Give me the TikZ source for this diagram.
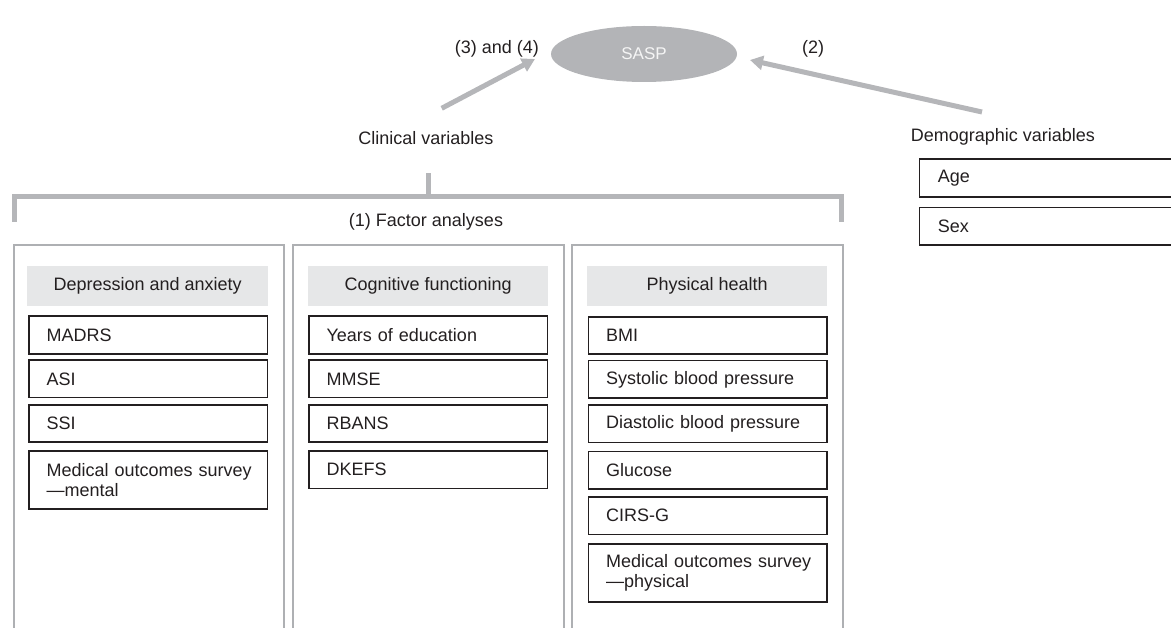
\documentclass[tikz,border=0pt]{standalone}
\usepackage{fontspec}
\setmainfont{Liberation Sans}
\usetikzlibrary{shapes.geometric,arrows.meta}
\definecolor{gline}{HTML}{B5B6B9}
\definecolor{hfill}{HTML}{E6E7E8}
\definecolor{pborder}{HTML}{AEB0B3}
\definecolor{ink}{HTML}{231F20}
\definecolor{saspfill}{HTML}{B3B4B7}
\begin{document}
\begin{tikzpicture}[x=1pt,y=-1pt,
  every node/.style={font=\fontsize{18}{20}\selectfont, text=ink},
  txt/.style={inner sep=0pt},
  panel/.style={draw=pborder, line width=2pt, rectangle, anchor=north west,
    minimum width=270pt, minimum height=430pt, inner sep=0pt},
  hdr/.style={fill=hfill, rectangle, anchor=north west, minimum width=241pt,
    minimum height=40pt, inner sep=0pt},
  item/.style={draw=ink, line width=1.7pt, rectangle, anchor=north west,
    minimum width=238.5pt, minimum height=37.5pt, inner xsep=0pt, inner ysep=0pt,
    text width=203pt, align=left},
  tall/.style={item, minimum height=58pt},
  demo/.style={item, minimum width=280pt, text width=243pt},
  arr/.style={draw=gline, line width=5pt, -{Triangle[length=13pt,width=14pt]}},
  brk/.style={draw=gline, line width=5pt}
]
\useasboundingbox (0,0) rectangle (1171,628);

% SASP
\node[ellipse, fill=saspfill, minimum width=186pt, minimum height=56pt, inner sep=0pt,
  text=white!92!gray, font=\fontsize{17}{20}\selectfont] (sasp) at (644,54) {SASP};
\node[txt] (lab34) at (497,49) {(3) and (4)};
\node[txt] (lab2) at (813,49) {(2)};

% group labels
\node[txt] (clin) at (426,138) {Clinical variables};
\node[txt] (demog) at (1003,137) {Demographic variables};

% arrows
\coordinate (clinTail) at (441.7,108.3);
\coordinate (clinTip) at (535,59);
\coordinate (demTail) at (982,112);
\coordinate (demTip) at (750,60);
\draw[arr] (clinTail) -- (clinTip);
\draw[arr] (demTail) -- (demTip);

% bracket
\coordinate (stemTop) at (428.5,173.3);
\coordinate (stemBot) at (428.5,196.8);
\coordinate (brL) at (14.8,222);
\coordinate (brLc) at (14.8,196.8);
\coordinate (brRc) at (841.8,196.8);
\coordinate (brR) at (841.8,222);
\draw[brk] (stemTop) -- (stemBot);
\draw[brk, line join=miter] (brL) -- (brLc) -- (brRc) -- (brR);
\node[txt] (fa) at (426,222) {(1) Factor analyses};

% panels
\node[panel] (p1) at (12.8,244) {};
\node[panel, minimum width=271pt] (p2) at (292,244) {};
\node[panel, minimum width=271pt] (p3) at (571,244) {};

% headers
\node[hdr] (h1) at (27,265.5) {Depression and anxiety};
\node[hdr, minimum width=240pt] (h2) at (308,265.5) {Cognitive functioning};
\node[hdr, minimum width=240pt] (h3) at (587,266) {Physical health};

% column 1
\node[item] (madrs) at (28,315.5) {MADRS};
\node[item] (asi) at (28,359.3) {ASI};
\node[item] (ssi) at (28,404) {SSI};
\node[tall] (mosm) at (28,450) {\mbox{Medical outcomes survey}\\\mbox{—mental}};

% column 2
\node[item] (yoe) at (308,315.5) {Years of education};
\node[item] (mmse) at (308,359.3) {MMSE};
\node[item] (rbans) at (308,404) {RBANS};
\node[item] (dkefs) at (308,450) {DKEFS};

% column 3
\node[item] (bmi) at (587.5,316) {BMI};
\node[item] (sbp) at (587.5,359.8) {Systolic blood pressure};
\node[item] (dbp) at (587.5,404.2) {Diastolic blood pressure};
\node[item] (glu) at (587.5,450.8) {Glucose};
\node[item] (cirs) at (587.5,496.2) {CIRS-G};
\node[tall, minimum height=57.6pt] (mosp) at (587.5,543.2) {\mbox{Medical outcomes survey}\\\mbox{—physical}};

% demographics
\node[demo] (age) at (918.5,158.5) {Age};
\node[demo] (sex) at (918.5,206.8) {Sex};
\end{tikzpicture}
\end{document}
